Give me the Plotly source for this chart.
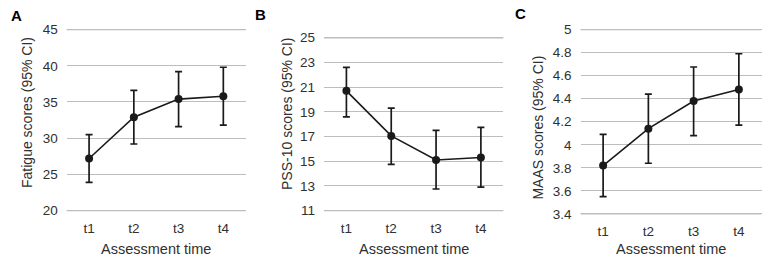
import plotly.graph_objects as go

categories = ["t1", "t2", "t3", "t4"]

fatigue_mean = [27.2, 32.9, 35.4, 35.8]
fatigue_upper = [30.5, 36.6, 39.2, 39.8]
fatigue_lower = [23.9, 29.2, 31.6, 31.8]

pss_mean = [20.7, 17.05, 15.1, 15.3]
pss_upper = [22.6, 19.3, 17.5, 17.75]
pss_lower = [18.6, 14.75, 12.75, 12.9]

maas_mean = [3.82, 4.14, 4.38, 4.48]
maas_upper = [4.09, 4.44, 4.675, 4.79]
maas_lower = [3.55, 3.84, 4.08, 4.17]

W, H = 767, 263

# pixel boxes of the gridded area: (left, right, top, bottom)
panels = [
    dict(label="A", ytitle="Fatigue scores (95% CI)", mean=fatigue_mean, up=fatigue_upper, lo=fatigue_lower,
         rng=[20, 45], dtick=5, box=(66.7, 245.7, 27.3, 213.3),
         ytx=27, yty=113, lab=(16, 13)),
    dict(label="B", ytitle="PSS-10 scores (95% CI)", mean=pss_mean, up=pss_upper, lo=pss_lower,
         rng=[11, 25], dtick=2, box=(324, 503.3, 35.7, 213.3),
         ytx=287, yty=114, lab=(260, 12)),
    dict(label="C", ytitle="MAAS scores (95% CI)", mean=maas_mean, up=maas_upper, lo=maas_lower,
         rng=[3.4, 5], dtick=0.2, box=(580.5, 761.5, 27.3, 216.7),
         ytx=538, yty=128, lab=(520, 11)),
]

FONT = "Liberation Sans, Arial, sans-serif"
GREY = "#303030"
GRID = "#bdbdbd"
PAD = 4  # px of padding around the gridded area

fig = go.Figure()
annotations = []
shapes = []
layout = {}
for i, p in enumerate(panels):
    n = "" if i == 0 else str(i + 1)
    xa, ya = "x" + n, "y" + n
    err_up = [u - m for u, m in zip(p["up"], p["mean"])]
    err_lo = [m - l for m, l in zip(p["mean"], p["lo"])]
    fig.add_trace(go.Scatter(
        x=categories, y=p["mean"], xaxis=xa, yaxis=ya, mode="lines+markers",
        line=dict(color="#1a1a1a", width=1.6),
        marker=dict(color="#1a1a1a", size=8),
        error_y=dict(type="data", symmetric=False, array=err_up, arrayminus=err_lo,
                     color="#1a1a1a", thickness=1.7, width=3.5),
        showlegend=False, cliponaxis=False,
    ))
    l, r, t, b = p["box"]
    hpx = b - t
    span = p["rng"][1] - p["rng"][0]
    eps = span * PAD / hpx
    xdom = [l / W, r / W]
    ydom = [1 - (b + PAD) / H, 1 - (t - PAD) / H]
    layout["xaxis" + n] = dict(
        domain=xdom, anchor=ya, type="category", range=[-0.5, 3.5],
        showgrid=False, zeroline=False, showline=False, ticks="",
        tickfont=dict(family=FONT, size=13.5, color=GREY), ticklabelstandoff=4,
    )
    layout["yaxis" + n] = dict(
        domain=ydom, anchor=xa, range=[p["rng"][0] - eps, p["rng"][1] + eps],
        dtick=p["dtick"], tick0=p["rng"][0],
        showgrid=True, gridcolor=GRID, gridwidth=1.3, zeroline=False, showline=False,
        ticks="", tickfont=dict(family=FONT, size=13.5, color=GREY), ticklabelstandoff=8,
    )
    # boundary gridlines
    for yv in p["rng"]:
        shapes.append(dict(type="line", xref=xa + " domain", yref=ya, x0=0, x1=1, y0=yv, y1=yv,
                           line=dict(color=GRID, width=1.3), layer="above"))
    xc = (xdom[0] + xdom[1]) / 2
    annotations.append(dict(text="Assessment time", x=xc, y=1 - 253 / H, xref="paper", yref="paper",
                            showarrow=False, xanchor="center", yanchor="middle",
                            font=dict(family=FONT, size=14.5, color=GREY)))
    annotations.append(dict(text=p["ytitle"], x=p["ytx"] / W, y=1 - p["yty"] / H, xref="paper", yref="paper",
                            showarrow=False, xanchor="center", yanchor="middle", textangle=-90,
                            font=dict(family=FONT, size=14, color=GREY)))
    annotations.append(dict(text="<b>" + p["label"] + "</b>", x=p["lab"][0] / W, y=1 - p["lab"][1] / H,
                            xref="paper", yref="paper", showarrow=False, xanchor="center", yanchor="middle",
                            font=dict(family=FONT, size=15, color="black")))

fig.update_layout(
    width=W, height=H, margin=dict(l=0, r=0, t=0, b=0),
    paper_bgcolor="white", plot_bgcolor="white",
    annotations=annotations, shapes=shapes, **layout,
)
fig.write_html("out.html", config={"displayModeBar": False},
               post_script="document.body.style.margin='0';document.body.style.overflow='hidden';")
